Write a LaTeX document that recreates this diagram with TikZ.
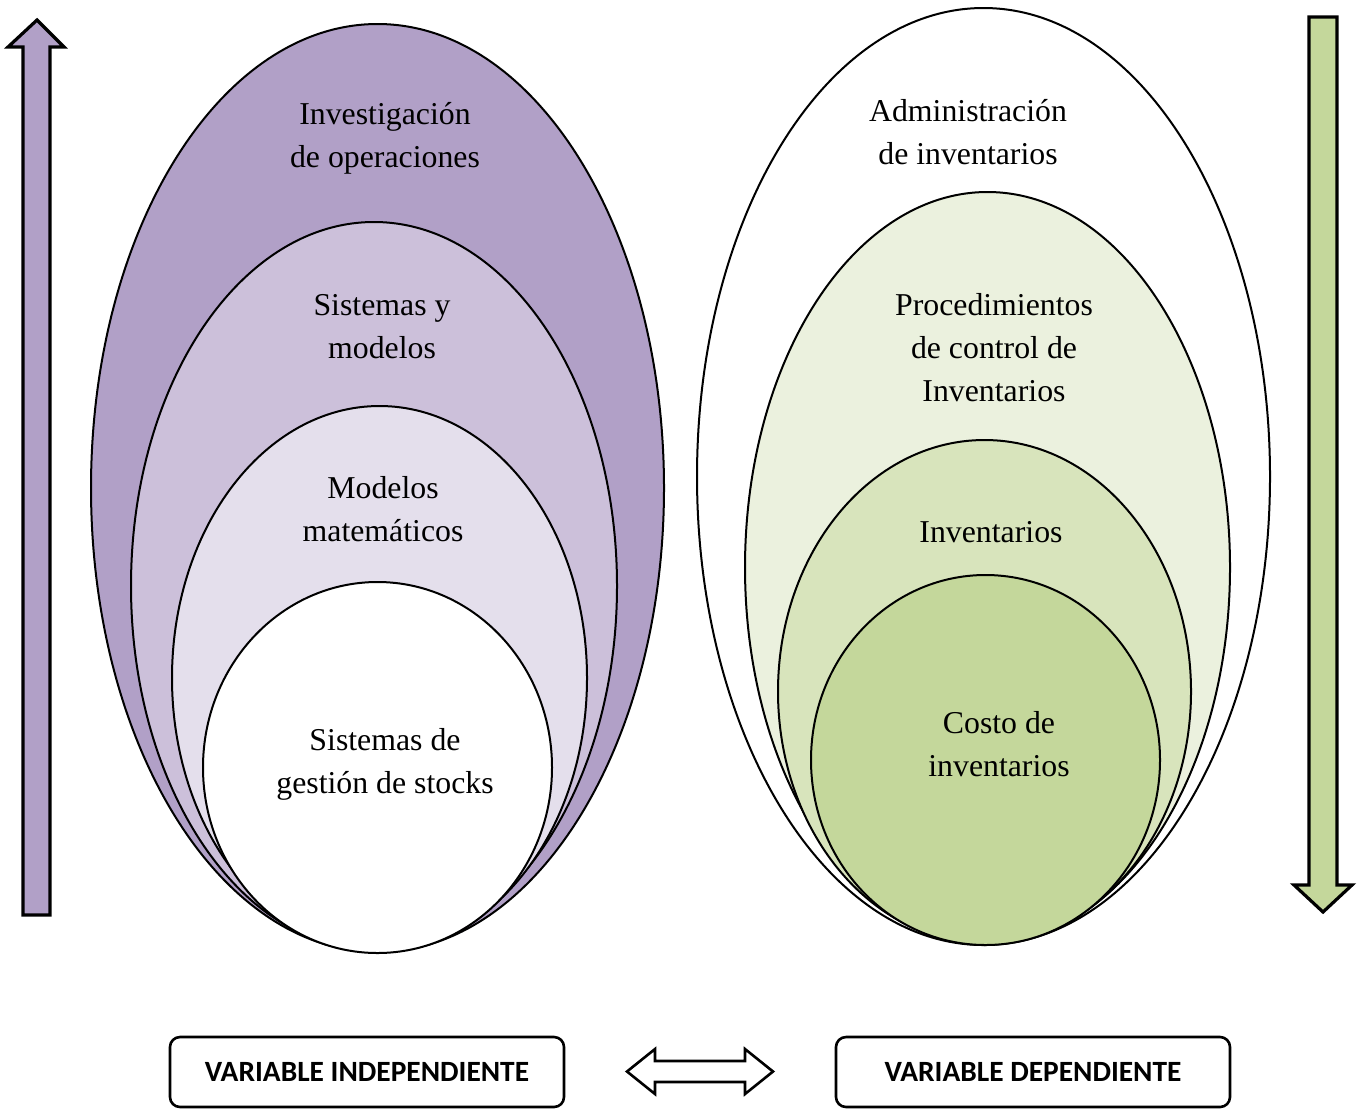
\documentclass[tikz,border=0pt]{standalone}
\usepackage{fontspec}
\setmainfont{Liberation Serif}
\newfontfamily\boxfont{Carlito}
\definecolor{purA}{HTML}{B1A0C7}
\definecolor{purB}{HTML}{CCC0DA}
\definecolor{purC}{HTML}{E4DFEC}
\definecolor{grnA}{HTML}{C4D79B}
\definecolor{grnB}{HTML}{D8E4BC}
\definecolor{grnC}{HTML}{EBF1DE}
\begin{document}
\begin{tikzpicture}[x=0.5pt,y=-0.5pt,
  ell/.style={draw=black,line width=1pt},
  lbl/.style={font=\fontsize{15.9}{21.5}\selectfont,align=center,inner sep=0pt},
  blk/.style={draw=black,line width=1.6pt,line join=miter},
  vbox/.style={draw=black,line width=1.3pt,rounded corners=5pt,minimum width=197pt,minimum height=35pt,font=\boxfont\bfseries\fontsize{14.7}{16}\selectfont}]
\useasboundingbox (0,0) rectangle (1363,1109);
% left arrow
\draw[blk,fill=purA] (23,915) -- (23,47) -- (8,47) -- (37,20) -- (64,47) -- (50,47) -- (50,915) -- cycle;
% right arrow
\draw[blk,fill=grnA] (1309,17) -- (1337,17) -- (1337,885) -- (1352,885) -- (1323,912) -- (1294,885) -- (1309,885) -- cycle;
% left ellipses
\draw[ell,fill=purA] (377.5,488) ellipse [x radius=286.5,y radius=464];
\draw[ell,fill=purB] (374,586) ellipse [x radius=243,y radius=364];
\draw[ell,fill=purC] (379.5,678) ellipse [x radius=207.5,y radius=272];
\draw[ell,fill=white] (377.5,767.5) ellipse [x radius=174.5,y radius=185.5];
% right ellipses
\draw[ell,fill=white] (983.5,476.5) ellipse [x radius=286.5,y radius=468.5];
\draw[ell,fill=grnC] (987.5,567.5) ellipse [x radius=242.5,y radius=375.5];
\draw[ell,fill=grnB] (984.5,691.5) ellipse [x radius=206.5,y radius=251.5];
\draw[ell,fill=grnA] (985.5,760) ellipse [x radius=174.5,y radius=185];
% labels
\node[lbl] (io) at (385,138) {Investigación\\de operaciones};
\node[lbl] (sm) at (382,327) {Sistemas y\\modelos};
\node[lbl] (mm) at (383,509) {Modelos\\matemáticos};
\node[lbl] (sg) at (385,764) {Sistemas de\\gestión de stocks};
\node[lbl] (ai) at (968,132) {Administración\\de inventarios};
\node[lbl] (pc) at (994,348) {Procedimientos\\de control de\\Inventarios};
\node[lbl] (inv) at (991,532) {Inventarios};
\node[lbl] (ci) at (999,744) {Costo de\\inventarios};
% bottom boxes
\node[vbox] (vi) at (367,1072) {VARIABLE INDEPENDIENTE};
\node[vbox] (vd) at (1033,1072) {VARIABLE DEPENDIENTE};
% double arrow
\draw[blk,line width=1.3pt] (627,1071.5) -- (655,1049) -- (655,1061) -- (745,1061) -- (745,1049) -- (773,1071.5) -- (745,1094) -- (745,1082) -- (655,1082) -- (655,1094) -- cycle;
\end{tikzpicture}
\end{document}
